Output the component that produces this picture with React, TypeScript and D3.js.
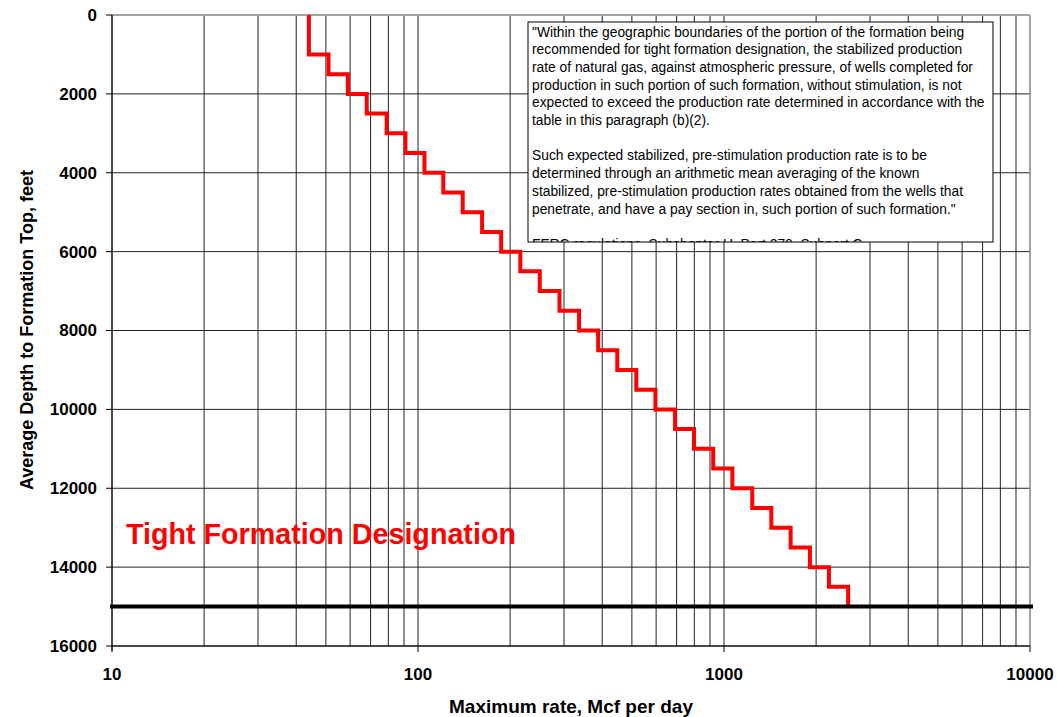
import * as d3 from "d3";

// depth bands (feet) and the maximum rate allowed in each band (Mcf/d)
const depthBreaks = [0, 1000, 1500, 2000, 2500, 3000, 3500, 4000, 4500, 5000, 5500, 6000, 6500, 7000, 7500, 8000, 8500, 9000, 9500, 10000, 10500, 11000, 11500, 12000, 12500, 13000, 13500, 14000, 14500, 15000];
const maxRates = [44, 51, 59, 68, 79, 91, 105, 121, 140, 162, 187, 216, 250, 290, 336, 388, 448, 517, 597, 692, 798, 922, 1065, 1237, 1428, 1651, 1909, 2203, 2545];

const depthTicks = [0, 2000, 4000, 6000, 8000, 10000, 12000, 14000, 16000];
const rateTicks = [10, 100, 1000, 10000];
const limitDepth = 15000;

const quoteLines = [
  "\"Within the geographic boundaries of the portion of the formation being",
  "recommended for tight formation designation, the stabilized production",
  "rate of natural gas, against atmospheric pressure, of wells completed for",
  "production in such portion of such formation, without stimulation, is not",
  "expected to exceed the production rate determined in accordance with the",
  "table in this paragraph (b)(2).",
  "",
  "Such expected stabilized, pre-stimulation production rate is to be",
  "determined through an arithmetic mean averaging of the known",
  "stabilized, pre-stimulation production rates obtained from the wells that",
  "penetrate, and have a pay section in, such portion of such formation.\"",
  "",
  "FERC regulations, Subchapter H, Part 270, Subpart C",
];

const W = 1057;
const H = 717;
const m = { left: 112, right: 1030, top: 15, bottom: 646 };
const font = "Arial, 'Liberation Sans', sans-serif";

export default function App() {
  const x = d3.scaleLog().domain([10, 10000]).range([m.left, m.right]);
  const y = d3.scaleLinear().domain([0, 16000]).range([m.top, m.bottom]);

  // every 1..9 multiple of each decade
  const gridX: number[] = [];
  for (let dec = 10; dec < 10000; dec *= 10) {
    for (let k = 1; k <= 9; k++) gridX.push(dec * k);
  }
  gridX.push(10000);

  const pts: [number, number][] = [];
  maxRates.forEach((r, i) => {
    pts.push([r, depthBreaks[i]]);
    pts.push([r, depthBreaks[i + 1]]);
  });
  const line = d3
    .line<[number, number]>()
    .x((d) => x(d[0]))
    .y((d) => y(d[1]));

  const box = { x: 528, y: 22, w: 465, h: 220 };

  return (
    <svg width={W} height={H} style={{ position: "absolute", left: 0, top: 0, fontFamily: font }}>
      <defs>
        <clipPath id="boxclip">
          <rect x={box.x} y={box.y} width={box.w} height={box.h} />
        </clipPath>
      </defs>
      <rect x={0} y={0} width={W} height={H} fill="#fff" />

      {gridX.map((v) => (
        <line key={"gx" + v} x1={x(v)} x2={x(v)} y1={m.top} y2={m.bottom} stroke="#222" strokeWidth={1} />
      ))}
      {depthTicks.map((v) => (
        <line key={"gy" + v} x1={m.left} x2={m.right} y1={y(v)} y2={y(v)} stroke="#222" strokeWidth={1} />
      ))}
      <line x1={m.left} x2={m.right} y1={m.top} y2={m.top} stroke="#aaa" strokeWidth={1.5} />
      <line x1={m.right} x2={m.right} y1={m.top} y2={m.bottom} stroke="#aaa" strokeWidth={1.5} />

      {/* axes */}
      <line x1={m.left} x2={m.left} y1={m.top} y2={m.bottom + 5} stroke="#000" strokeWidth={1} />
      <line x1={m.left} x2={m.right} y1={m.bottom} y2={m.bottom} stroke="#000" strokeWidth={1} />
      {depthTicks.map((v) => (
        <g key={"ty" + v}>
          <line x1={m.left - 6} x2={m.left} y1={y(v)} y2={y(v)} stroke="#000" />
          <text x={97} y={y(v)} dy="0.35em" textAnchor="end" fontSize={17} fontWeight="bold">
            {v}
          </text>
        </g>
      ))}
      {rateTicks.map((v) => (
        <g key={"tx" + v}>
          <line x1={x(v)} x2={x(v)} y1={m.bottom} y2={m.bottom + 6} stroke="#000" />
          <text x={x(v)} y={680} textAnchor="middle" fontSize={17} fontWeight="bold">
            {v}
          </text>
        </g>
      ))}

      <text x={571} y={713} textAnchor="middle" fontSize={19} fontWeight="bold">
        Maximum rate, Mcf per day
      </text>
      <text
        transform={`translate(33,330) rotate(-90)`}
        textAnchor="middle"
        fontSize={18}
        fontWeight="bold"
      >
        Average Depth to Formation Top, feet
      </text>

      <path d={line(pts) || ""} fill="none" stroke="#ff0000" strokeWidth={4} strokeLinejoin="miter" />

      <line x1={m.left - 2} x2={1033} y1={y(limitDepth)} y2={y(limitDepth)} stroke="#000" strokeWidth={4} />

      <text x={126} y={544} fontSize={28.7} fontWeight="bold" fill="#ff0000">
        Tight Formation Designation
      </text>

      <rect x={box.x} y={box.y} width={box.w} height={box.h} fill="#fff" stroke="#000" strokeWidth={1} />
      <g clipPath="url(#boxclip)">
        {quoteLines.map((t, i) => (
          <text key={i} x={box.x + 4} y={36.5 + i * 17.7} fontSize={13.8}>
            {t}
          </text>
        ))}
      </g>
    </svg>
  );
}
